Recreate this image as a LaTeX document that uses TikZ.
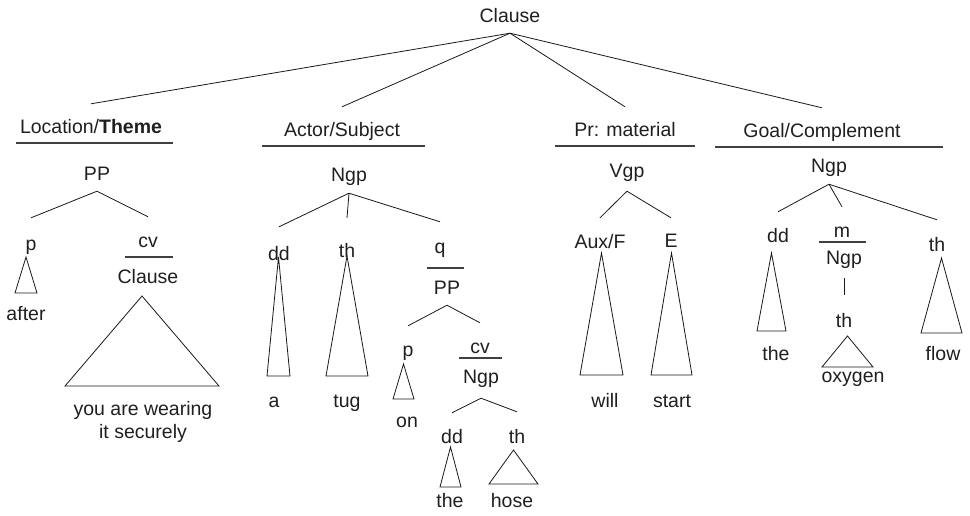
\documentclass[tikz,border=0pt]{standalone}
\usepackage{fontspec}
\setmainfont{Liberation Sans}
\usetikzlibrary{calc}

% triangle under a label: apex x, apex y, half width, height
\newcommand{\roof}[4]{\draw[tri] (#1,#2) -- ++(-#3,#4) -- ++(2*#3,0) -- cycle;}

\begin{document}
\begin{tikzpicture}[
  x=1pt, y=-1pt,
  font=\fontsize{19.5}{23}\selectfont,
  lab/.style ={inner sep=0pt, anchor=base, text height=14pt, text depth=4pt, text=black!88},
  word/.style={inner sep=0pt, anchor=base, text=black!88},
  br/.style  ={line width=0.8pt, draw=black!90},
  rule/.style={line width=1.1pt, draw=black!75},
  tri/.style ={line width=0.8pt, draw=black!90, line join=miter},
]
\useasboundingbox (0,0) rectangle (970,515);

% ---- clause and its functions ----
\node[lab] (root) at (510,22)  {Clause};
\node[lab] (loc)  at (91,133)  {Location/\textbf{Theme}};
\node[lab] (act)  at (342,136) {Actor/Subject};
\node[lab] (pr)   at (625,136) {Pr: material};
\node[lab] (goal) at (822,137) {Goal/Complement};

\draw[rule] (16,143)  -- (173,143);
\draw[rule] (262,146) -- (425,146);
\draw[rule] (555,146) -- (695,146);
\draw[rule] (715,147) -- (943,147);

\foreach \n in {loc,act,pr,goal}
  \draw[br] ([yshift=-7pt]root.south) -- ([yshift=15pt]\n.north);

% ---- group classes ----
\node[lab] (pp1)  at (97,180)  {PP};
\node[lab] (ngp1) at (349,181) {Ngp};
\node[lab] (vgp)  at (627,177) {Vgp};
\node[lab] (ngp2) at (829,172) {Ngp};

% ---- Location/Theme ----
\node[lab] (p1)  at (31,250)  {p};
\node[lab] (cv1) at (148,247) {cv};
\draw[rule] (125,257) -- (173,257);
\node[lab] (cl2) at (148,283) {Clause};
\draw[br] ([yshift=-7pt]pp1.south) -- ([yshift=18pt]p1.north);
\draw[br] ([yshift=-7pt]pp1.south) -- ([yshift=16pt]cv1.north);
\roof{26}{257}{11}{36}
\node[word] (after) at (26,320) {after};
\roof{142}{296}{77}{90}
\node[word, align=center] (wear) at (143,438) {you are wearing\\it securely};

% ---- Actor/Subject ----
\node[lab] (dd1) at (279,260) {dd};
\node[lab] (th1) at (347,257) {th};
\node[lab] (q)   at (440,253) {q};
\draw[br] ([yshift=-8pt]ngp1.south) -- ([yshift=19pt]dd1.north);
\draw[br] ([yshift=-8pt]ngp1.south) -- ([yshift=25pt]th1.north);
\draw[br] ([yshift=-8pt]ngp1.south) -- ([yshift=17pt]q.north);
\roof{278.5}{257}{11.5}{119}
\roof{347}{256}{21}{120}
\node[word] (a)   at (274,407) {a};
\node[word] (tug) at (347,407) {tug};

\draw[rule] (427,268) -- (464,268);
\node[lab] (pp2) at (447,294) {PP};
\node[lab] (p2)  at (408,356) {p};
\node[lab] (cv2) at (480,353) {cv};
\draw[br] ([yshift=-7pt]pp2.south) -- ([yshift=16pt]p2.north);
\draw[br] ([yshift=-7pt]pp2.south) -- ([yshift=16pt]cv2.north);
\roof{403.5}{364}{10.5}{35}
\node[word] (on) at (407,427) {on};

\draw[rule] (459,358) -- (502,358);
\node[lab] (ngp3) at (481,383) {Ngp};
\node[lab] (dd3)  at (452,443) {dd};
\node[lab] (th3)  at (517,443) {th};
\draw[br] ([yshift=-11pt]ngp3.south) -- ([yshift=16pt]dd3.north);
\draw[br] ([yshift=-11pt]ngp3.south) -- ([yshift=17pt]th3.north);
\roof{450.5}{447}{10.5}{40}
\roof{513.5}{450}{24.5}{34}
\node[word] (the1) at (450,507) {the};
\node[word] (hose) at (512,507) {hose};

% ---- Pr: material ----
\node[lab] (aux) at (600,248) {Aux/F};
\node[lab] (e)   at (671,247) {E};
\draw[br] ([yshift=-10pt]vgp.south) -- ([yshift=16pt]aux.north);
\draw[br] ([yshift=-10pt]vgp.south) -- ([yshift=15pt]e.north);
\roof{601.5}{253}{21.5}{122}
\roof{671.5}{253}{20.5}{122}
\node[word] (will)  at (605,407) {will};
\node[word] (start) at (672,407) {start};

% ---- Goal/Complement ----
\node[lab] (dd2) at (778,242) {dd};
\node[lab] (m)   at (842,237) {m};
\node[lab] (th2) at (937,251) {th};
\draw[br] ([yshift=-8pt]ngp2.south) -- ([yshift=16pt]dd2.north);
\draw[br] ([yshift=-8pt]ngp2.south) -- ([yshift=16pt]m.north);
\draw[br] ([yshift=-8pt]ngp2.south) -- ([yshift=17pt]th2.north);
\roof{771.5}{253}{14.5}{78}
\node[word] (the2) at (776,360) {the};

\draw[rule] (819,242) -- (866,242);
\node[lab] (ngp4) at (844,264) {Ngp};
\node[lab] (th4)  at (844,327) {th};
\draw[br] ([yshift=-10pt]ngp4.south) -- ([yshift=18pt]th4.north);
\roof{847.5}{336}{25.5}{31}
\node[word] (oxy) at (853,382) {oxygen};

\roof{941.5}{258}{20.5}{75}
\node[word] (flow) at (943,360) {flow};

\end{tikzpicture}
\end{document}
